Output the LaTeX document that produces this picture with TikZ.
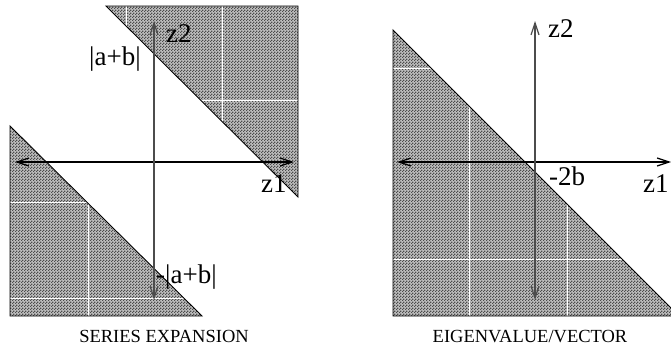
\documentclass[tikz,border=0pt]{standalone}
\usepackage{fontspec}
\setmainfont{Liberation Serif}
\usetikzlibrary{arrows.meta,patterns}
% coarse checker texture for the shaded half planes
\pgfdeclarepatternformonly{checks}{\pgfpointorigin}{\pgfqpoint{3pt}{3pt}}%
  {\pgfqpoint{3pt}{3pt}}{%
  \pgfpathrectangle{\pgfpointorigin}{\pgfqpoint{1.5pt}{1.5pt}}%
  \pgfpathrectangle{\pgfqpoint{1.5pt}{1.5pt}}{\pgfqpoint{1.5pt}{1.5pt}}%
  \pgfusepath{fill}}
\tikzset{
  region/.style={preaction={fill=gray!50},pattern=checks,
    pattern color=gray!60!black},
  edge/.style={draw=black,line width=0.9pt,line join=miter},
  gridln/.style={draw=white,line width=0.9pt},
  axis/.style={{Straight Barb[length=12pt,width=8pt]}-{Straight Barb[length=12pt,width=8pt]},
    line width=1.2pt},
  vaxis/.style={axis,draw=gray!60!black},
  lab/.style={font=\fontsize{27}{30}\selectfont,inner sep=0pt},
  caption/.style={font=\fontsize{18.5}{20}\selectfont,inner sep=0pt}
}

\begin{document}
\begin{tikzpicture}[x=1pt,y=-1pt]
  \useasboundingbox (0,0) rectangle (671,348);
  % series expansion: two half planes
  \fill[region] (106,6) -- (298,6) -- (298,197) -- cycle;
  \begin{scope}
    \clip (106,6) -- (298,6) -- (298,197) -- cycle;
    \foreach \x in {126,222} \draw[gridln] (\x,0) -- (\x,200);
    \draw[gridln] (100,100) -- (300,100);
  \end{scope}
  \draw[edge] (106,6) -- (298,6) -- (298,197) -- cycle;
  \fill[region] (10,126) -- (10,316) -- (202,316) -- cycle;
  \begin{scope}
    \clip (10,126) -- (10,316) -- (202,316) -- cycle;
    \draw[gridln] (88,120) -- (88,320);
    \foreach \y in {202,298} \draw[gridln] (0,\y) -- (210,\y);
  \end{scope}
  \draw[edge] (10,126) -- (10,316) -- (202,316) -- cycle;
  \coordinate (aw) at (15,162);
  \coordinate (ae) at (294,162);
  \coordinate (an) at (154,21);
  \coordinate (as) at (154,300);
  \draw[axis] (aw) -- (ae);
  \draw[vaxis] (as) -- (an);
  \node[lab,anchor=base west] (az2) at (166,42) {z2};
  \node[lab,anchor=base west] (az1) at (261,192) {z1};
  \node[lab,anchor=base west] (atop) at (89,65.5) {|a+b|};
  \node[lab,anchor=base west] (abot) at (156,283.5) {-|a+b|};
  \node[caption,anchor=base] (acap) at (164,342) {SERIES EXPANSION};
  % eigenvalue/vector: one half plane
  \fill[region] (393,30) -- (393,316) -- (679,316) -- cycle;
  \begin{scope}
    \clip (393,30) -- (393,316) -- (679,316) -- cycle;
    \foreach \x in {469,567} \draw[gridln] (\x,20) -- (\x,320);
    \foreach \y in {68,259} \draw[gridln] (380,\y) -- (680,\y);
  \end{scope}
  \draw[edge] (393,30) -- (393,316) -- (679,316) -- cycle;
  \coordinate (bw) at (397,162);
  \coordinate (be) at (671,162);
  \coordinate (bn) at (535,21);
  \coordinate (bs) at (535,300);
  \draw[axis] (bw) -- (be);
  \draw[vaxis] (bs) -- (bn);
  \node[lab,anchor=base west] (bz2) at (548,37) {z2};
  \node[lab,anchor=base west] (bz1) at (643,192) {z1};
  \node[lab,anchor=base west] (bcut) at (549,185) {-2b};
  \node[caption,anchor=base] (bcap) at (530,342) {EIGENVALUE/VECTOR};
\end{tikzpicture}
\end{document}
